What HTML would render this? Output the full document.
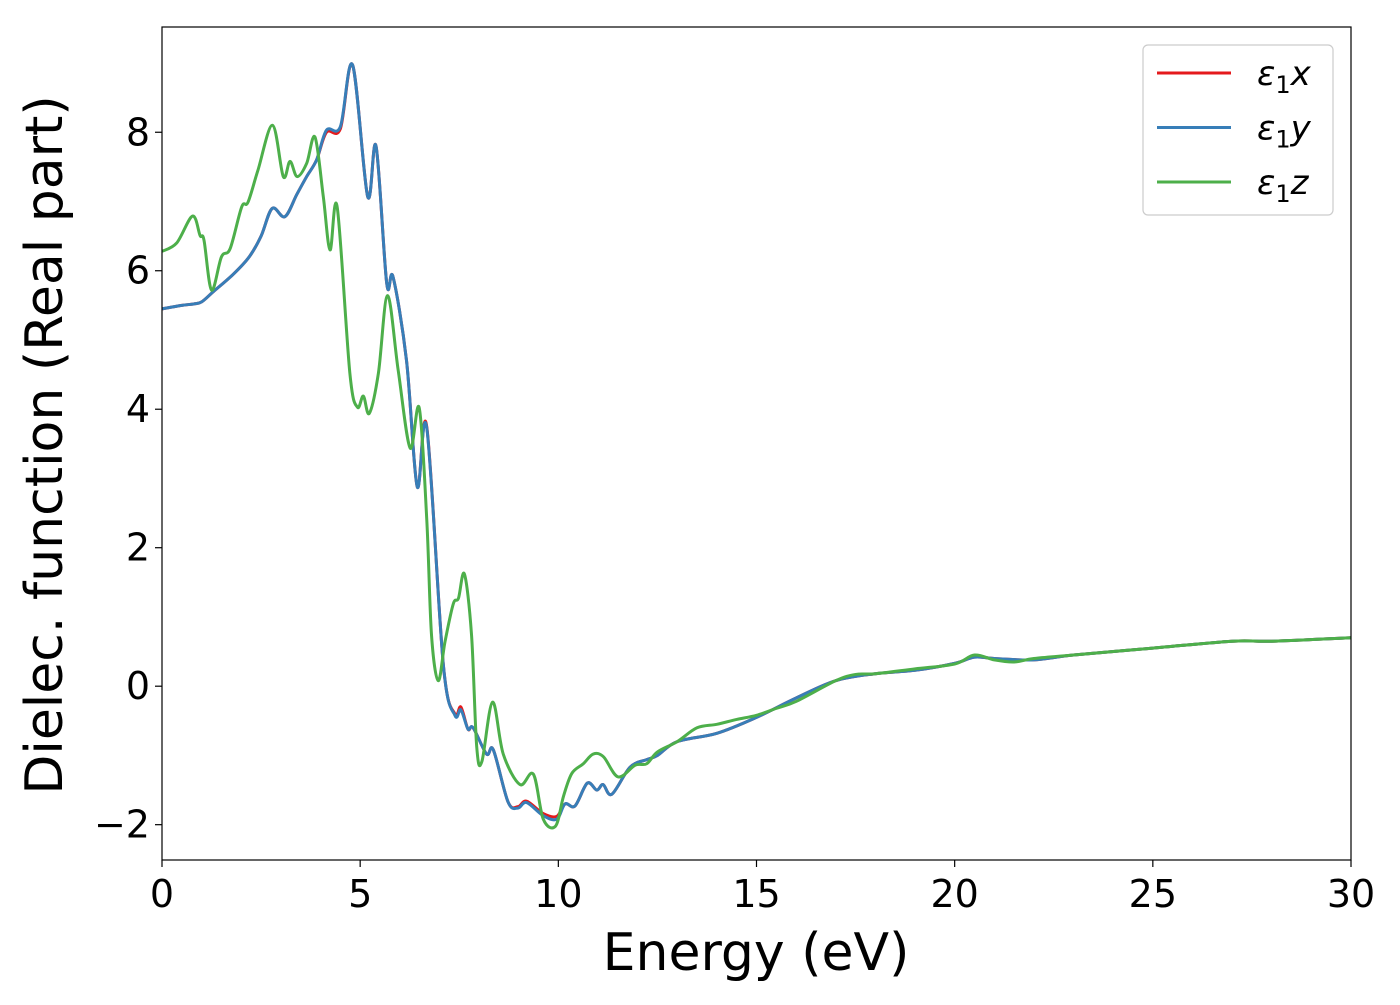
<!DOCTYPE html>
<html><head><meta charset="utf-8"><style>
body{margin:0;background:#fff;}
text{font-family:"DejaVu Sans","Liberation Sans",sans-serif;}
</style></head><body>
<svg width="1400" height="1000" viewBox="0 0 1400 1000" xmlns="http://www.w3.org/2000/svg">
<g id="plot"></g>
</svg>
<script>
const xTicks=[0,5,10,15,20,25,30];
const yTicks=[-2,0,2,4,6,8];
const energyXY=[0,0.5,0.8,1.0,1.3,1.8,2.2,2.5,2.78,3.1,3.4,3.65,3.9,4.15,4.5,4.81,5.19,5.4,5.67,5.83,6.17,6.44,6.68,7.1,7.39,7.54,7.72,7.85,8.19,8.36,8.73,8.98,9.2,9.62,9.96,10.17,10.42,10.73,10.97,11.13,11.35,11.81,12.23,12.5,13,14,15,16,17,18,19,20,20.5,21,22,23,25,27,28,30];
const eps1x=[5.45,5.5,5.52,5.55,5.7,5.95,6.2,6.5,6.9,6.78,7.1,7.36,7.6,8.0,8.05,8.97,7.07,7.8,5.82,5.91,4.7,2.88,3.75,0.3,-0.4,-0.3,-0.62,-0.6,-0.98,-0.92,-1.67,-1.74,-1.66,-1.84,-1.88,-1.7,-1.73,-1.4,-1.5,-1.42,-1.56,-1.17,-1.06,-1.0,-0.8,-0.68,-0.45,-0.17,0.08,0.18,0.23,0.33,0.42,0.4,0.38,0.45,0.55,0.65,0.65,0.7];
const eps1y=[5.45,5.5,5.52,5.55,5.7,5.95,6.2,6.5,6.9,6.78,7.1,7.36,7.6,8.03,8.08,8.97,7.07,7.8,5.82,5.91,4.7,2.88,3.73,0.3,-0.42,-0.34,-0.62,-0.6,-0.98,-0.92,-1.67,-1.76,-1.68,-1.87,-1.92,-1.7,-1.73,-1.4,-1.5,-1.42,-1.56,-1.17,-1.06,-1.0,-0.8,-0.68,-0.45,-0.17,0.08,0.18,0.23,0.33,0.42,0.4,0.38,0.45,0.55,0.65,0.65,0.7];
const energyZ=[0,0.37,0.77,0.96,1.06,1.25,1.5,1.72,2.01,2.17,2.42,2.79,3.06,3.23,3.41,3.65,3.86,4.07,4.24,4.42,4.74,4.93,5.08,5.23,5.46,5.69,5.96,6.26,6.49,6.68,6.8,6.97,7.14,7.35,7.48,7.63,7.81,7.94,8.07,8.34,8.61,9.03,9.37,9.62,9.93,10.13,10.34,10.63,10.88,11.14,11.51,11.94,12.23,12.5,13,13.5,14,14.5,15,15.5,16,17,17.5,18,19,20,20.5,21,21.5,22,23,25,27,28,30];
const eps1z=[6.28,6.4,6.79,6.51,6.44,5.72,6.2,6.32,6.92,6.99,7.45,8.1,7.36,7.58,7.36,7.55,7.93,7.07,6.3,6.92,4.52,4.03,4.19,3.94,4.52,5.64,4.56,3.44,4.02,2.41,0.74,0.08,0.64,1.19,1.27,1.62,0.74,-0.87,-1.09,-0.23,-0.98,-1.42,-1.27,-1.92,-2.02,-1.59,-1.26,-1.12,-0.98,-1.02,-1.31,-1.14,-1.12,-0.95,-0.8,-0.6,-0.55,-0.48,-0.42,-0.32,-0.22,0.08,0.17,0.18,0.25,0.32,0.45,0.38,0.35,0.4,0.45,0.55,0.65,0.65,0.7];

const L=162,R=1351,T=27,B=860,xMin=0,xMax=30,yMin=-2.51,yMax=9.52;
const sx=v=>L+(v-xMin)/(xMax-xMin)*(R-L);
const sy=v=>B-(v-yMin)/(yMax-yMin)*(B-T);
const NS="http://www.w3.org/2000/svg";
const g=document.getElementById('plot');
function mk(tag,attrs,parent){const e=document.createElementNS(NS,tag);for(const k in attrs)e.setAttribute(k,attrs[k]);(parent||g).appendChild(e);return e;}
function pathFor(xs,ys){
  const p=xs.map((x,i)=>[sx(x),sy(ys[i])]);
  let d=`M${p[0][0]},${p[0][1]}`;
  for(let i=0;i<p.length-1;i++){
    const p0=p[Math.max(0,i-1)],p1=p[i],p2=p[i+1],p3=p[Math.min(p.length-1,i+2)];
    const c1=[p1[0]+(p2[0]-p0[0])/6,p1[1]+(p2[1]-p0[1])/6];
    const c2=[p2[0]-(p3[0]-p1[0])/6,p2[1]-(p3[1]-p1[1])/6];
    d+=` C${c1[0]},${c1[1]} ${c2[0]},${c2[1]} ${p2[0]},${p2[1]}`;
  }
  return d;
}
const series=[[energyXY,eps1x,'#e41a1c','series-eps1x'],[energyXY,eps1y,'#377eb8','series-eps1y'],[energyZ,eps1z,'#4daf4a','series-eps1z']];
const clip=mk('clipPath',{id:'c'});mk('rect',{x:L,y:T,width:R-L,height:B-T},clip);
series.forEach(s=>{
  const e=mk('path',{d:pathFor(s[0],s[1]),fill:'none',stroke:s[2],'stroke-width':3,'clip-path':'url(#c)'});
  
  
});
const fr=mk('rect',{x:L,y:T,width:R-L,height:B-T,fill:'none',stroke:'#000','stroke-width':1.2});


xTicks.forEach(v=>{
  mk('line',{x1:sx(v),x2:sx(v),y1:B,y2:B+7,stroke:'#000','stroke-width':1.2});
  const t=mk('text',{x:sx(v),y:B+47,'font-size':38,'text-anchor':'middle'});t.textContent=v;
  
  
});
yTicks.forEach(v=>{
  mk('line',{x1:L-7,x2:L,y1:sy(v),y2:sy(v),stroke:'#000','stroke-width':1.2});
  const t=mk('text',{x:L-12,y:sy(v)+13,'font-size':38,'text-anchor':'end'});t.textContent=v<0?'\u2212'+(-v):v;
  
  
});
const xl=mk('text',{x:756,y:970,'font-size':52,'text-anchor':'middle'});xl.textContent='Energy (eV)';


const yl=mk('text',{x:0,y:0,'font-size':52,'text-anchor':'middle',transform:'translate(62,445) rotate(-90)'});yl.textContent='Dielec. function (Real part)';


const lg=mk('g',{});


mk('rect',{x:1143,y:45,width:190,height:170,rx:5,fill:'#fff',stroke:'#ccc','stroke-width':1.2},lg);
const labs=['x','y','z'];
series.forEach((s,i)=>{
  const y=73+i*54.5;
  mk('line',{x1:1157,x2:1231,y1:y,y2:y,stroke:s[2],'stroke-width':3},lg);
  const t=mk('text',{x:1257,y:y+12,'font-size':34,'font-style':'italic'},lg);
  t.innerHTML='ε<tspan font-style="normal" font-size="24" dy="8">1</tspan><tspan dy="-8">'+labs[i]+'</tspan>';
  
  
});
</script>
</body></html>
